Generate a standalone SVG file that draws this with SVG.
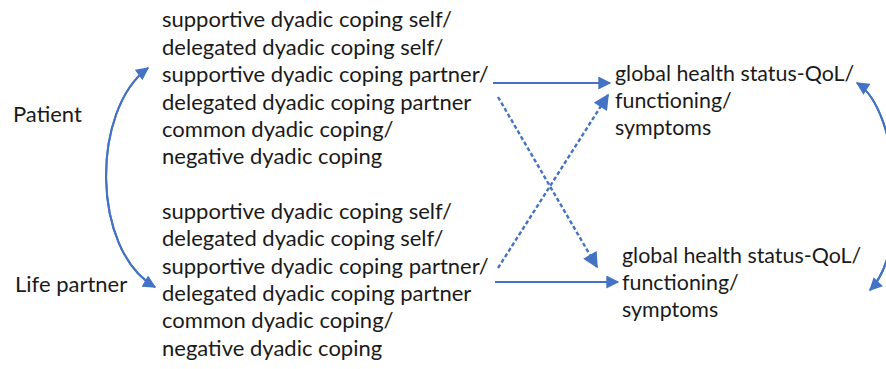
<svg xmlns="http://www.w3.org/2000/svg" width="886" height="369" viewBox="0 0 886 369">
<style>
text{font-family:Lato,"Open Sans","Liberation Sans",sans-serif;font-size:22px;fill:#1a1a1a}
.r{font-size:21.4px}
.c{fill:none;stroke:#4472C4;stroke-width:2}
.d{stroke-dasharray:4,2.5;stroke-width:2.4}
</style>
<defs>
<marker id="a" viewBox="0 0 10 10" refX="9" refY="5" markerWidth="7" markerHeight="6.5" markerUnits="strokeWidth" orient="auto"><path d="M0,0L10,5L0,10z" fill="#4472C4"/></marker>
</defs>
<rect width="886" height="369" fill="#fff"/>
<g id="patient"><text x="13" y="122">Patient</text></g>
<g id="partner"><text x="15" y="292">Life partner</text></g>
<g id="dc-patient">
<text x="162" y="27">supportive dyadic coping self/</text>
<text x="162" y="55">delegated dyadic coping self/</text>
<text x="162" y="82">supportive dyadic coping partner/</text>
<text x="162" y="110">delegated dyadic coping partner</text>
<text x="162" y="137">common dyadic coping/</text>
<text x="162" y="164">negative dyadic coping</text>
</g>
<g id="dc-partner">
<text x="162" y="219">supportive dyadic coping self/</text>
<text x="162" y="246">delegated dyadic coping self/</text>
<text x="162" y="274">supportive dyadic coping partner/</text>
<text x="162" y="301">delegated dyadic coping partner</text>
<text x="162" y="328">common dyadic coping/</text>
<text x="162" y="356">negative dyadic coping</text>
</g>
<g id="qol-patient" class="r">
<text class="r" x="615" y="81">global health status-QoL/</text>
<text class="r" x="615" y="108">functioning/</text>
<text class="r" x="615" y="135">symptoms</text>
</g>
<g id="qol-partner">
<text class="r" x="622" y="263">global health status-QoL/</text>
<text class="r" x="622" y="290">functioning/</text>
<text class="r" x="622" y="317">symptoms</text>
</g>
<g id="connectors">
<path class="c" d="M148,68 C91,110 91,250 155,287" marker-end="url(#a)"/>
<path class="c" d="M155,287 C91,250 91,110 148,68" marker-end="url(#a)"/>
<line class="c" x1="493" y1="83" x2="610" y2="83" marker-end="url(#a)"/>
<line class="c" x1="495" y1="282" x2="618" y2="282" marker-end="url(#a)"/>
<line class="c d" x1="498" y1="97" x2="597" y2="267" marker-end="url(#a)"/>
<line class="c d" x1="498" y1="268" x2="608" y2="95" marker-end="url(#a)"/>
<path class="c" d="M870,290 C910,250 900,110 857,83" marker-end="url(#a)"/>
<path class="c" d="M857,83 C900,110 910,250 870,290" marker-end="url(#a)"/>
</g>
</svg>
